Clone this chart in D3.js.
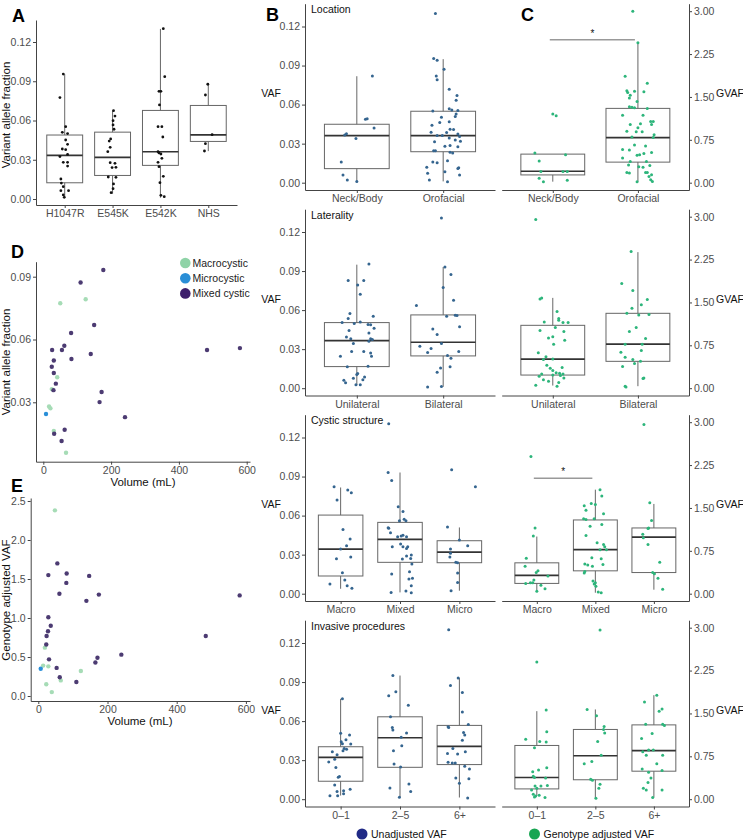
<!DOCTYPE html>
<html>
<head>
<meta charset="utf-8">
<script src="https://d3js.org/d3.v7.min.js"></script>
<style>
  body { margin: 0; background: #fff; }
</style>
</head>
<body>
<div id="my_dataviz"></div>
<script>
// ---------- data ----------
// box stats are [lower whisker, q1, median, q3, upper whisker]
// points are [horizontal jitter in category steps, value]

// Panel A
const mutations = ["H1047R", "E545K", "E542K", "NHS"];
const mutationBoxes = [
	[0.001, 0.0124, 0.0334, 0.0489, 0.0954],
	[0.004, 0.018, 0.0318, 0.0511, 0.0674],
	[0.001, 0.0257, 0.0361, 0.0677, 0.130],
	[0.0366, 0.044, 0.049, 0.0715, 0.0875]
];
const mutationPoints = [
	[[-0.03, 0.0955], [-0.10, 0.0775], [0.02, 0.0553], [-0.05, 0.051], [0.06, 0.050], [0.02, 0.0451], [0.06, 0.0418], [-0.05, 0.0382], [0.02, 0.0377], [0.06, 0.0341], [-0.10, 0.0324], [-0.03, 0.028], [0.06, 0.028], [0.06, 0.0252], [-0.08, 0.0153], [-0.07, 0.0122], [-0.03, 0.0094], [-0.08, 0.0064], [0.08, 0.0064], [-0.03, 0.0031], [-0.01, 0.0013]],
	[[0.02, 0.0675], [0.05, 0.0634], [0.01, 0.0599], [0.01, 0.0566], [0.03, 0.0533], [-0.04, 0.0459], [-0.07, 0.0443], [-0.05, 0.0395], [-0.10, 0.0362], [-0.05, 0.0278], [0.05, 0.0273], [-0.01, 0.024], [0.07, 0.0242], [-0.09, 0.0168], [0.07, 0.0166], [0.02, 0.0115], [0.01, 0.0079], [-0.03, 0.0048]],
	[[0.06, 0.1302], [0.09, 0.0935], [-0.03, 0.0823], [0.01, 0.0823], [-0.02, 0.0719], [-0.05, 0.0553], [0.03, 0.0553], [0.05, 0.0474], [-0.05, 0.0362], [-0.03, 0.0352], [0.01, 0.0344], [0.03, 0.0311], [-0.05, 0.028], [-0.03, 0.0247], [0.06, 0.0173], [-0.01, 0.0125], [0.01, 0.0028], [0.08, 0.0018]],
	[[-0.01, 0.0877], [-0.06, 0.0795], [0.08, 0.0492], [-0.06, 0.0423], [-0.08, 0.0367]]
];

// Row 1: Location
const locationCats = ["Neck/Body", "Orofacial"];
const locationVafBoxes = [[0.001, 0.0108, 0.0362, 0.0449, 0.0818], [0.001, 0.0238, 0.0362, 0.0549, 0.0949]];
const locationVafPoints = [
	[[0.18, 0.082], [0.10, 0.0487], [0.12, 0.0492], [0.20, 0.042], [-0.14, 0.0367], [-0.12, 0.0377], [-0.01, 0.034], [-0.18, 0.0159], [-0.16, 0.0059], [-0.11, 0.002], [0, 0.001]],
	[[-0.09, 0.130], [-0.11, 0.0954], [-0.07, 0.094], [0.01, 0.0872], [-0.08, 0.082], [-0.07, 0.079], [0.07, 0.0718], [0.16, 0.0669], [0.15, 0.0633], [0.07, 0.0569], [0.10, 0.0559], [0.17, 0.0554], [-0.12, 0.0551], [-0.02, 0.0503], [0.14, 0.0508], [0.15, 0.0528], [-0.13, 0.0441], [0.07, 0.0469], [-0.04, 0.0462], [0.08, 0.041], [0.04, 0.0385], [-0.14, 0.0387], [0.12, 0.0408], [-0.07, 0.0362], [-0.01, 0.0362], [0.17, 0.0374], [0.19, 0.0354], [0.07, 0.0344], [0.14, 0.0328], [-0.10, 0.0315], [0.20, 0.0318], [0.02, 0.028], [0.08, 0.0285], [0.17, 0.0277], [-0.11, 0.0246], [-0.09, 0.0246], [0.08, 0.0233], [0.11, 0.0228], [-0.12, 0.0159], [-0.07, 0.0154], [0.05, 0.0169], [-0.19, 0.0118], [-0.18, 0.0072], [0.02, 0.0085], [0.17, 0.011], [0.18, 0.0115], [0.19, 0.0059], [-0.16, 0.002], [0.05, 0.0008]]
];
const locationGvafBoxes = [[0.018, 0.136, 0.20, 0.50, 0.50], [0.018, 0.36, 0.79, 1.30, 2.45]];
const locationGvafPoints = [
	[[0, 1.20], [0.04, 1.17], [-0.21, 0.52], [0.15, 0.49], [-0.16, 0.38], [-0.14, 0.195], [0.12, 0.195], [0.17, 0.195], [-0.16, 0.077], [-0.11, 0.018], [0.17, 0.041]],
	[[-0.06, 3.0], [0, 2.45], [-0.15, 1.86], [0.11, 1.74], [-0.13, 1.61], [-0.12, 1.58], [-0.04, 1.60], [-0.09, 1.53], [0.07, 1.59], [-0.10, 1.48], [-0.01, 1.42], [-0.10, 1.33], [-0.07, 1.32], [-0.04, 1.31], [0.11, 1.30], [-0.18, 1.18], [0.06, 1.18], [0.15, 1.07], [0.18, 1.07], [0.16, 1.02], [-0.09, 1.02], [0.03, 1.03], [0, 0.96], [-0.13, 0.90], [-0.02, 0.89], [0.05, 0.89], [0.19, 0.84], [-0.07, 0.80], [0.18, 0.79], [-0.04, 0.66], [0.09, 0.64], [-0.18, 0.58], [-0.10, 0.57], [0.07, 0.51], [0.16, 0.53], [0.02, 0.49], [-0.01, 0.48], [-0.18, 0.43], [-0.09, 0.37], [0.10, 0.37], [-0.11, 0.31], [0.01, 0.28], [0.06, 0.27], [0.14, 0.30], [-0.13, 0.18], [-0.10, 0.17], [0.09, 0.18], [0.11, 0.18], [0.16, 0.14], [0.13, 0.11], [-0.01, 0.018], [0.15, 0.05], [0.17, 0.02]]
];

// Row 2: Laterality
const lateralityCats = ["Unilateral", "Bilateral"];
const lateralityVafBoxes = [[0.0023, 0.0166, 0.0366, 0.0504, 0.0949], [0.001, 0.0248, 0.0353, 0.0563, 0.0931]];
const lateralityVafPoints = [
	[[0.14, 0.0955], [-0.10, 0.0827], [0.08, 0.0827], [0.01, 0.0793], [0.04, 0.0722], [-0.08, 0.0573], [-0.10, 0.0535], [-0.17, 0.0504], [-0.03, 0.0497], [0.04, 0.0509], [0.19, 0.0553], [0.13, 0.049], [0.16, 0.0488], [-0.09, 0.0443], [0.20, 0.046], [0.14, 0.0425], [-0.12, 0.0394], [-0.07, 0.0379], [-0.04, 0.0343], [0.16, 0.0379], [0.18, 0.0374], [0.14, 0.0361], [0.08, 0.0281], [-0.06, 0.0281], [0.16, 0.0271], [0.17, 0.0246], [-0.19, 0.0246], [0.13, 0.0169], [-0.11, 0.0164], [0.01, 0.0113], [0, 0.0105], [0.09, 0.0087], [-0.04, 0.0077], [0.07, 0.0064], [-0.15, 0.0061], [-0.13, 0.0041], [-0.01, 0.0026], [0.04, 0.0026]],
	[[-0.02, 0.1307], [0.02, 0.0931], [0.09, 0.0873], [0, 0.0773], [0.12, 0.0676], [-0.31, 0.0635], [0.04, 0.0553], [0.14, 0.056], [0.16, 0.0558], [0.19, 0.0473], [-0.12, 0.0455], [-0.07, 0.0412], [-0.02, 0.0343], [-0.27, 0.0322], [-0.14, 0.0305], [-0.18, 0.0274], [0.18, 0.0281], [0.05, 0.0251], [0.09, 0.023], [-0.03, 0.0156], [-0.07, 0.0123], [0.08, 0.0164], [-0.18, 0.001], [-0.02, 0.0013]]
];
const lateralityGvafBoxes = [[0.046, 0.23, 0.51, 1.10, 1.58], [0.035, 0.47, 0.77, 1.31, 2.38]];
const lateralityGvafPoints = [
	[[-0.20, 2.95], [-0.15, 1.56], [-0.13, 1.58], [0.05, 1.34], [0.07, 1.22], [0.07, 1.19], [-0.10, 1.16], [0.18, 1.15], [0.12, 1.15], [0.03, 1.06], [-0.15, 1.01], [0.13, 0.99], [0, 0.90], [-0.05, 0.88], [0.14, 0.84], [0.01, 0.77], [-0.17, 0.62], [-0.08, 0.55], [-0.11, 0.50], [0, 0.51], [-0.07, 0.40], [-0.03, 0.35], [0.11, 0.36], [0, 0.31], [0.04, 0.27], [0.08, 0.26], [0.12, 0.25], [-0.13, 0.25], [-0.16, 0.21], [0, 0.23], [0.13, 0.18], [0.09, 0.22], [-0.11, 0.15], [-0.05, 0.12], [0.07, 0.10], [0.05, 0.035], [-0.20, 0.052]],
	[[-0.08, 2.39], [-0.19, 1.83], [-0.06, 1.71], [0.11, 1.55], [0.04, 1.46], [-0.07, 1.40], [-0.13, 1.31], [0.01, 1.28], [0.13, 1.29], [-0.02, 1.06], [-0.10, 0.99], [0.09, 0.87], [-0.15, 0.77], [0.05, 0.77], [0.04, 0.66], [-0.20, 0.63], [-0.15, 0.54], [-0.06, 0.50], [-0.04, 0.43], [0.03, 0.47], [-0.18, 0.38], [0.06, 0.17], [0.07, 0.18], [-0.15, 0.035], [-0.14, 0.023]]
];

// Row 3: Cystic structure
const cysticCats = ["Macro", "Mixed", "Micro"];
const cysticVafBoxes = [[0.0038, 0.0136, 0.0343, 0.0604, 0.0816], [0.001, 0.0241, 0.0417, 0.0548, 0.0931], [0.0023, 0.0238, 0.032, 0.0407, 0.0509]];
const cysticVafPoints = [
	[[-0.11, 0.0821], [0.12, 0.0796], [0.18, 0.0775], [-0.06, 0.0719], [0.04, 0.0494], [0.16, 0.042], [0.10, 0.0369], [0, 0.0343], [-0.07, 0.0269], [0.17, 0.0281], [0.03, 0.0161], [0.07, 0.0105], [-0.18, 0.0074], [0.11, 0.0061], [0.19, 0.0041]],
	[[-0.19, 0.1305], [-0.20, 0.0931], [-0.14, 0.087], [-0.03, 0.0668], [0.05, 0.0632], [-0.01, 0.056], [0.07, 0.0571], [0.10, 0.056], [-0.20, 0.0507], [-0.19, 0.0502], [-0.16, 0.0468], [0.05, 0.045], [0.02, 0.0443], [-0.04, 0.0438], [0.11, 0.0438], [0.01, 0.0381], [0.05, 0.0361], [0.13, 0.0361], [0.11, 0.0348], [-0.13, 0.0361], [0.19, 0.0297], [0.11, 0.0289], [0.18, 0.0271], [0.04, 0.0266], [0.20, 0.0228], [-0.14, 0.0151], [0.16, 0.0169], [0.15, 0.0113], [0.21, 0.0118], [0.19, 0.0061], [-0.15, 0.001], [0.10, 0.002], [0.19, 0.0008]],
	[[-0.13, 0.0952], [0.27, 0.0821], [-0.20, 0.0512], [0, 0.0412], [-0.15, 0.0343], [0.14, 0.0369], [-0.15, 0.031], [-0.16, 0.0281], [-0.06, 0.0241], [-0.03, 0.0238], [-0.03, 0.0159], [-0.03, 0.0087], [-0.14, 0.0023]]
];
const cysticGvafBoxes = [[0.058, 0.18, 0.32, 0.54, 1.00], [0.017, 0.40, 0.77, 1.29, 1.82], [0.07, 0.37, 0.99, 1.15, 1.57]];
const cysticGvafPoints = [
	[[-0.10, 2.40], [-0.03, 1.15], [-0.06, 1.01], [-0.18, 0.62], [-0.20, 0.48], [0.02, 0.40], [-0.01, 0.37], [0.19, 0.31], [-0.05, 0.24], [-0.07, 0.19], [-0.11, 0.19], [-0.19, 0.18], [0.07, 0.15], [0.14, 0.087], [0, 0.041]],
	[[0.08, 1.82], [0.11, 1.71], [-0.07, 1.58], [-0.19, 1.54], [0, 1.56], [0.14, 1.40], [-0.16, 1.46], [-0.02, 1.31], [-0.16, 1.30], [-0.20, 1.31], [-0.09, 1.18], [0.11, 1.21], [-0.16, 1.02], [0.03, 0.89], [0.14, 0.86], [0.16, 0.82], [0.08, 0.77], [0.19, 0.77], [-0.06, 0.63], [0.10, 0.61], [-0.18, 0.52], [-0.13, 0.50], [-0.05, 0.48], [0.13, 0.51], [-0.19, 0.36], [-0.18, 0.39], [-0.04, 0.22], [0, 0.19], [-0.02, 0.17], [0.01, 0.13], [0.05, 0.029], [0.10, 0.017]],
	[[-0.17, 2.96], [-0.07, 1.59], [-0.04, 1.28], [-0.09, 1.15], [-0.10, 1.14], [-0.19, 1.04], [-0.18, 0.98], [-0.10, 0.86], [0.10, 0.55], [-0.02, 0.37], [0.01, 0.35], [0.07, 0.27], [0.15, 0.076]]
];

// Row 4: Invasive procedures
const invasiveCats = ["0–1", "2–5", "6+"];
const invasiveVafBoxes = [[0.0028, 0.0138, 0.0322, 0.0403, 0.0771], [0.0015, 0.0245, 0.0472, 0.0633, 0.095], [0.0013, 0.0266, 0.0406, 0.0567, 0.0932]];
const invasiveVafPoints = [
	[[0.03, 0.0771], [0, 0.0506], [0.15, 0.0493], [0.09, 0.0457], [0.01, 0.0442], [0.03, 0.0426], [0.17, 0.0424], [0.06, 0.039], [0.04, 0.0373], [0.10, 0.0383], [-0.14, 0.0365], [-0.06, 0.0342], [-0.10, 0.0306], [-0.20, 0.0286], [-0.08, 0.0243], [-0.04, 0.0168], [-0.02, 0.0174], [-0.10, 0.011], [-0.06, 0.0059], [0.05, 0.0064], [0.05, 0.0041], [0.16, 0.0077], [-0.18, 0.0026], [-0.05, 0.0026]],
	[[-0.12, 0.095], [-0.07, 0.0825], [-0.19, 0.0794], [0.14, 0.0722], [-0.16, 0.0633], [-0.13, 0.0551], [-0.12, 0.0531], [0.11, 0.0508], [0.02, 0.0475], [0.03, 0.0411], [-0.11, 0.0373], [-0.10, 0.0271], [0.01, 0.0248], [0.15, 0.0117], [-0.17, 0.0087], [0.18, 0.0059], [-0.01, 0.0015]],
	[[-0.18, 0.1302], [-0.02, 0.0932], [-0.15, 0.0873], [0.05, 0.082], [0.05, 0.0669], [0.15, 0.0574], [-0.19, 0.0557], [-0.18, 0.0551], [0.07, 0.0513], [0.09, 0.0493], [0.05, 0.0452], [-0.11, 0.039], [0.10, 0.0365], [-0.20, 0.0352], [-0.03, 0.0347], [-0.19, 0.0283], [-0.12, 0.0278], [-0.07, 0.0278], [0.09, 0.0253], [0.17, 0.0232], [-0.06, 0.0163], [0.16, 0.0158], [0, 0.0123], [0.14, 0.001]]
];
const invasiveGvafBoxes = [[0.058, 0.18, 0.38, 0.94, 1.54], [0.017, 0.34, 0.76, 1.22, 1.57], [0.029, 0.49, 0.85, 1.30, 1.82]];
const invasiveGvafPoints = [
	[[0, 2.40], [0.16, 1.56], [0.17, 1.18], [-0.19, 1.05], [0.05, 1.01], [0.16, 1.00], [-0.04, 0.90], [0.03, 0.51], [-0.07, 0.48], [0.17, 0.55], [-0.06, 0.40], [-0.04, 0.38], [0.15, 0.37], [-0.03, 0.23], [0, 0.19], [0.07, 0.23], [0.18, 0.24], [-0.09, 0.16], [-0.06, 0.087], [0.04, 0.07], [-0.04, 0.04], [0.14, 0.03], [-0.02, 0.058]],
	[[0.08, 2.96], [-0.14, 1.57], [0.02, 1.46], [0.15, 1.27], [0.14, 1.22], [0.16, 1.16], [0.04, 1.01], [0.10, 0.77], [-0.06, 0.66], [-0.19, 0.62], [-0.08, 0.35], [-0.05, 0.33], [0.08, 0.26], [0.06, 0.19], [0.01, 0.017]],
	[[0.05, 1.82], [-0.16, 1.70], [0.14, 1.58], [0.09, 1.54], [-0.14, 1.31], [0.15, 1.31], [0.18, 1.29], [-0.03, 1.15], [-0.21, 1.06], [-0.19, 0.83], [-0.09, 0.86], [-0.01, 0.86], [0.15, 0.77], [-0.13, 0.77], [0.05, 0.62], [-0.20, 0.53], [-0.09, 0.47], [0.14, 0.50], [-0.05, 0.37], [-0.10, 0.29], [-0.18, 0.19], [0.14, 0.16], [-0.13, 0.16], [-0.02, 0.029]]
];

const rowTitles = ["Location", "Laterality", "Cystic structure", "Invasive procedures"];

// significance brackets on the GVAF side: [row, from, to, level]
const sigBars = [[0, "Neck/Body", "Orofacial", 2.5], [2, "Macro", "Mixed", 2.02]];

// Panels D and E: [volume mL, value, cystic type]
const cysticTypes = ["Macrocystic", "Microcystic", "Mixed cystic"];
const volumeVaf = [
	[177, 0.0932, "Mixed cystic"], [110, 0.0872, "Mixed cystic"], [50, 0.0773, "Macrocystic"], [125, 0.0792, "Macrocystic"],
	[150, 0.0669, "Mixed cystic"], [82, 0.0631, "Mixed cystic"], [62, 0.057, "Mixed cystic"], [26, 0.055, "Mixed cystic"],
	[55, 0.055, "Mixed cystic"], [140, 0.0531, "Mixed cystic"], [31, 0.050, "Mixed cystic"], [83, 0.0507, "Mixed cystic"],
	[25, 0.047, "Mixed cystic"], [31, 0.044, "Mixed cystic"], [41, 0.042, "Macrocystic"], [37, 0.0389, "Mixed cystic"],
	[25, 0.0363, "Macrocystic"], [30, 0.0358, "Mixed cystic"], [172, 0.0349, "Mixed cystic"], [166, 0.0301, "Mixed cystic"],
	[17, 0.028, "Macrocystic"], [21, 0.0271, "Macrocystic"], [8, 0.0244, "Microcystic"], [241, 0.0229, "Mixed cystic"],
	[63, 0.0169, "Mixed cystic"], [31, 0.0163, "Macrocystic"], [32, 0.015, "Mixed cystic"], [54, 0.0115, "Mixed cystic"],
	[67, 0.0059, "Macrocystic"], [483, 0.055, "Mixed cystic"], [580, 0.0559, "Mixed cystic"]
];
const volumeGvaf = [
	[48, 2.38, "Macrocystic"], [55, 1.70, "Mixed cystic"], [29, 1.55, "Mixed cystic"], [82, 1.57, "Mixed cystic"],
	[147, 1.54, "Mixed cystic"], [81, 1.45, "Mixed cystic"], [61, 1.31, "Mixed cystic"], [175, 1.30, "Mixed cystic"],
	[139, 1.22, "Mixed cystic"], [582, 1.29, "Mixed cystic"], [29, 1.01, "Mixed cystic"], [36, 0.90, "Mixed cystic"],
	[28, 0.83, "Mixed cystic"], [24, 0.77, "Mixed cystic"], [484, 0.77, "Mixed cystic"], [23, 0.66, "Mixed cystic"],
	[19, 0.62, "Macrocystic"], [240, 0.53, "Mixed cystic"], [31, 0.47, "Mixed cystic"], [171, 0.49, "Mixed cystic"],
	[165, 0.43, "Mixed cystic"], [14, 0.39, "Macrocystic"], [29, 0.38, "Macrocystic"], [53, 0.36, "Mixed cystic"],
	[7, 0.35, "Microcystic"], [123, 0.32, "Macrocystic"], [62, 0.24, "Mixed cystic"], [65, 0.20, "Macrocystic"],
	[110, 0.18, "Mixed cystic"], [23, 0.15, "Macrocystic"], [39, 0.05, "Macrocystic"]
];

// ---------- drawing ----------
const FONT = "'Liberation Sans', Arial, Helvetica, sans-serif";
const AXIS = "#444";
const TICKTXT = "#4d4d4d";

const svg = d3.select("#my_dataviz")
	.append("svg")
	.attr("width", 743)
	.attr("height", 840)
	.style("font-family", FONT);

function styleAxis(g, size) {
	g.attr("font-family", FONT).attr("font-size", size);
	g.select(".domain").attr("stroke", AXIS);
	g.selectAll(".tick line").attr("stroke", AXIS);
	g.selectAll(".tick text").attr("fill", TICKTXT);
}

// rescale a linear scale so its range runs from pixel a to pixel b
function stretch(s, a, b) {
	return s.copy().domain([s.invert(a), s.invert(b)]).range([a, b]);
}

function drawBoxes(x, y, cats, stats, pts, dotColor, dotR) {
	const w = x.step() * 0.75;
	const g = svg.append("g");
	cats.forEach((c, i) => {
		const [lo, q1, med, q3, hi] = stats[i];
		const cx = x(c);
		g.append("line").attr("x1", cx).attr("x2", cx).attr("y1", y(q3)).attr("y2", y(hi))
			.attr("stroke", "#666").attr("stroke-width", 1);
		g.append("line").attr("x1", cx).attr("x2", cx).attr("y1", y(q1)).attr("y2", y(lo))
			.attr("stroke", "#666").attr("stroke-width", 1);
		g.append("rect")
			.attr("x", cx - w / 2).attr("y", y(q3))
			.attr("width", w).attr("height", y(q1) - y(q3))
			.attr("fill", "none").attr("stroke", "#666").attr("stroke-width", 1);
		g.append("line").attr("x1", cx - w / 2).attr("x2", cx + w / 2).attr("y1", y(med)).attr("y2", y(med))
			.attr("stroke", "#333").attr("stroke-width", 1.7);
		g.selectAll(null)
			.data(pts[i])
			.join("circle")
			.attr("cx", d => cx + d[0] * x.step())
			.attr("cy", d => y(d[1]))
			.attr("r", dotR)
			.attr("fill", dotColor);
	});
}

function panelLetter(t, x, y) {
	svg.append("text").attr("x", x).attr("y", y).text(t)
		.attr("font-size", 18).attr("font-weight", 900).attr("fill", "#000");
}

// ---- Panel A ----
const xA = d3.scalePoint().domain(mutations).range([36, 237]).padding(0.6);
const yA = stretch(d3.scaleLinear().domain([0, 0.12]).range([199, 42]), 205, 20);

svg.append("g")
	.attr("transform", "translate(36,0)")
	.call(d3.axisLeft(yA).tickValues([0, 0.03, 0.06, 0.09, 0.12]).tickFormat(d3.format(".2f"))
		.tickSize(3).tickSizeOuter(0).tickPadding(2))
	.call(g => styleAxis(g, 10.5));
svg.append("g")
	.attr("transform", "translate(0,205)")
	.call(d3.axisBottom(xA).tickSize(3).tickSizeOuter(0).tickPadding(2))
	.call(g => styleAxis(g, 10.5));

drawBoxes(xA, yA, mutations, mutationBoxes, mutationPoints, "#111", 1.4);

svg.append("text")
	.attr("transform", "translate(10,115) rotate(-90)")
	.attr("text-anchor", "middle")
	.attr("font-size", 11.5).attr("fill", "#111")
	.text("Variant allele fraction");
panelLetter("A", 12, 22);

// ---- Panels B and C ----
const rowCats = [locationCats, lateralityCats, cysticCats, invasiveCats];
const rowVafBoxes = [locationVafBoxes, lateralityVafBoxes, cysticVafBoxes, invasiveVafBoxes];
const rowVafPoints = [locationVafPoints, lateralityVafPoints, cysticVafPoints, invasiveVafPoints];
const rowGvafBoxes = [locationGvafBoxes, lateralityGvafBoxes, cysticGvafBoxes, invasiveGvafBoxes];
const rowGvafPoints = [locationGvafPoints, lateralityGvafPoints, cysticGvafPoints, invasiveGvafPoints];

rowTitles.forEach((title, r) => {
	const zero = 182.7 + 205.5 * r;
	const bottom = zero + 7.3, top = zero - 179;

	// Unadjusted VAF (B)
	const xB = d3.scalePoint().domain(rowCats[r]).range([305, 495]).padding(0.6);
	const yB = stretch(d3.scaleLinear().domain([0, 0.12]).range([zero, zero - 156.2]), bottom, top);
	svg.append("g")
		.attr("transform", "translate(305,0)")
		.call(d3.axisLeft(yB).tickValues([0, 0.03, 0.06, 0.09, 0.12]).tickFormat(d3.format(".2f"))
			.tickSize(3).tickSizeOuter(0).tickPadding(2))
		.call(g => styleAxis(g, 10.5));
	svg.append("g")
		.attr("transform", `translate(0,${bottom})`)
		.call(d3.axisBottom(xB).tickSize(3).tickSizeOuter(0).tickPadding(2))
		.call(g => styleAxis(g, 10.5));
	drawBoxes(xB, yB, rowCats[r], rowVafBoxes[r], rowVafPoints[r], "#35658f", 1.5);

	svg.append("text").attr("x", 271).attr("y", zero - 89).attr("dy", "0.35em")
		.attr("text-anchor", "middle").attr("font-size", 10.5).attr("fill", "#111").text("VAF");
	svg.append("text").attr("x", 311).attr("y", zero - 173).attr("dy", "0.35em")
		.attr("font-size", 10.5).attr("fill", "#111").text(title);

	// Genotype adjusted VAF (C)
	const xC = d3.scalePoint().domain(rowCats[r]).range([501.7, 689]).padding(0.6);
	const yC = stretch(d3.scaleLinear().domain([0, 3]).range([zero, zero - 171.5]), bottom, top);
	svg.append("g")
		.attr("transform", "translate(689,0)")
		.call(d3.axisRight(yC).tickValues([0, 0.75, 1.5, 2.25, 3]).tickFormat(d3.format(".2f"))
			.tickSize(3).tickSizeOuter(0).tickPadding(2))
		.call(g => styleAxis(g, 10.5));
	svg.append("g")
		.attr("transform", `translate(0,${bottom})`)
		.call(d3.axisBottom(xC).tickSize(3).tickSizeOuter(0).tickPadding(2))
		.call(g => styleAxis(g, 10.5));
	drawBoxes(xC, yC, rowCats[r], rowGvafBoxes[r], rowGvafPoints[r], "#2db57b", 1.5);

	svg.append("text").attr("x", 716).attr("y", zero - 89).attr("dy", "0.35em")
		.attr("font-size", 10.5).attr("fill", "#111").text("GVAF");

	// significance bars
	sigBars.filter(s => s[0] === r).forEach(s => {
		const x1 = xC(s[1]) - 3, x2 = xC(s[2]) - 3;
		svg.append("line").attr("x1", x1).attr("x2", x2).attr("y1", yC(s[3])).attr("y2", yC(s[3]))
			.attr("stroke", "#999").attr("stroke-width", 1.6);
		svg.append("text").attr("x", (x1 + x2) / 2).attr("y", yC(s[3]) - 3)
			.attr("text-anchor", "middle").attr("font-size", 10).attr("fill", "#111").text("*");
	});
});

panelLetter("B", 266, 21);
panelLetter("C", 521, 21);

// bottom legend
const legendItems = [["Unadjusted VAF", "#202a86", 362], ["Genotype adjusted VAF", "#17a552", 534.5]];
legendItems.forEach(d => {
	svg.append("circle").attr("cx", d[2]).attr("cy", 834).attr("r", 5.5).attr("fill", d[1]);
	svg.append("text").attr("x", d[2] + 9).attr("y", 834).attr("dy", "0.35em")
		.attr("font-size", 10.5).attr("fill", "#111").text(d[0]);
});

// ---- Panels D and E ----
const typeColor = d3.scaleOrdinal().domain(cysticTypes).range(["#8fd3a7", "#2a8ed6", "#3d1f6c"]);
const dotColor = d3.scaleOrdinal().domain(cysticTypes).range(["#a6dcb6", "#2a8fd8", "#4c3b72"]);
const drawOrder = t => cysticTypes.indexOf(t) === 2 ? 1 : 0;

// D
const xD = stretch(d3.scaleLinear().domain([0, 600]).range([43.3, 246.7]), 36, 250);
const yD = stretch(d3.scaleLinear().domain([0.03, 0.09]).range([402.3, 276.7]), 461.7, 261.7);
svg.append("g")
	.attr("transform", "translate(36,0)")
	.call(d3.axisLeft(yD).tickValues([0.03, 0.06, 0.09]).tickFormat(d3.format(".2f"))
		.tickSize(3).tickSizeOuter(0).tickPadding(2))
	.call(g => styleAxis(g, 10.5));
svg.append("g")
	.attr("transform", "translate(0,461.7)")
	.call(d3.axisBottom(xD).tickValues([0, 200, 400, 600]).tickSize(3).tickSizeOuter(0).tickPadding(2))
	.call(g => styleAxis(g, 10.5));
svg.append("g")
	.selectAll("circle")
	.data(volumeVaf.slice().sort((a, b) => drawOrder(a[2]) - drawOrder(b[2])))
	.join("circle")
	.attr("cx", d => xD(d[0]))
	.attr("cy", d => yD(d[1]))
	.attr("r", 2.2)
	.attr("fill", d => dotColor(d[2]));
svg.append("text")
	.attr("transform", "translate(10,362) rotate(-90)")
	.attr("text-anchor", "middle")
	.attr("font-size", 11.5).attr("fill", "#111")
	.text("Variant allele fraction");
svg.append("text").attr("x", 143).attr("y", 482).attr("dy", "0.35em")
	.attr("text-anchor", "middle").attr("font-size", 11.5).attr("fill", "#111").text("Volume (mL)");
panelLetter("D", 11, 258);

// legend D
cysticTypes.forEach((t, i) => {
	const cy = 263 + i * 15.2;
	svg.append("circle").attr("cx", 185.3).attr("cy", cy).attr("r", 5.3).attr("fill", typeColor(t));
	svg.append("text").attr("x", 192.5).attr("y", cy).attr("dy", "0.35em")
		.attr("font-size", 10.5).attr("fill", "#222").text(t);
});

// E
const xE = stretch(d3.scaleLinear().domain([0, 600]).range([38.3, 245.9]), 30.7, 250);
const yE = stretch(d3.scaleLinear().domain([0, 2.5]).range([696, 501]), 701, 498);
svg.append("g")
	.attr("transform", "translate(30.7,0)")
	.call(d3.axisLeft(yE).tickValues([0, 0.5, 1, 1.5, 2, 2.5]).tickFormat(d3.format(".1f"))
		.tickSize(3).tickSizeOuter(0).tickPadding(2))
	.call(g => styleAxis(g, 10.5));
svg.append("g")
	.attr("transform", "translate(0,701)")
	.call(d3.axisBottom(xE).tickValues([0, 200, 400, 600]).tickSize(3).tickSizeOuter(0).tickPadding(2))
	.call(g => styleAxis(g, 10.5));
svg.append("g")
	.selectAll("circle")
	.data(volumeGvaf.slice().sort((a, b) => drawOrder(a[2]) - drawOrder(b[2])))
	.join("circle")
	.attr("cx", d => xE(d[0]))
	.attr("cy", d => yE(d[1]))
	.attr("r", 2.2)
	.attr("fill", d => dotColor(d[2]));
svg.append("text")
	.attr("transform", "translate(10,600) rotate(-90)")
	.attr("text-anchor", "middle")
	.attr("font-size", 11.5).attr("fill", "#111")
	.text("Genotype adjusted VAF");
svg.append("text").attr("x", 140).attr("y", 721).attr("dy", "0.35em")
	.attr("text-anchor", "middle").attr("font-size", 11.5).attr("fill", "#111").text("Volume (mL)");
panelLetter("E", 11, 492);
</script>
</body>
</html>
